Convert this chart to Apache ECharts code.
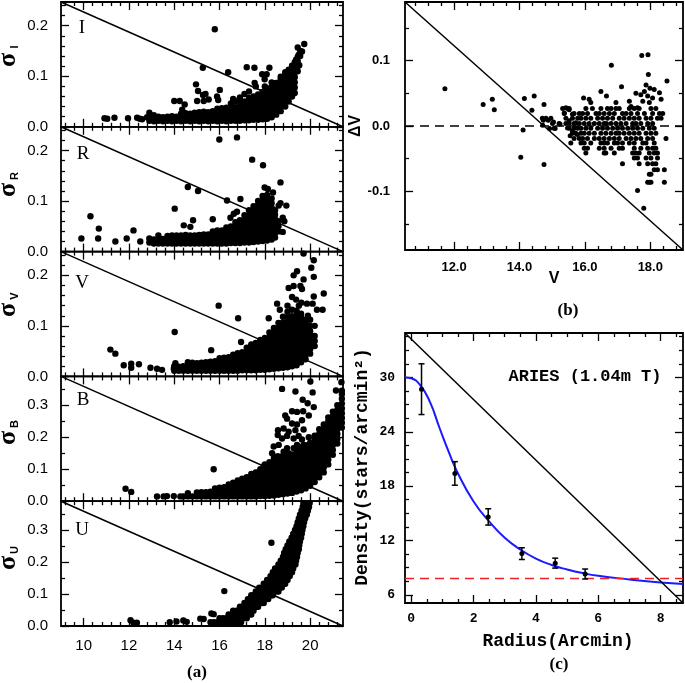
<!DOCTYPE html>
<html><head><meta charset="utf-8">
<script src="https://cdn.jsdelivr.net/npm/echarts@6/dist/echarts.min.js"></script>
<style>html,body{margin:0;padding:0;background:#fff}#c{width:685px;height:683px}</style>
</head><body><div id="c"></div>
<script>
// ---------------- DATA ----------------
// Panel (a): photometric error sigma vs magnitude, five bands
const sigIPts = [[10.92,0.017],[11.04,0.016],[11.36,0.018],[11.96,0.017],[12.36,0.018],[12.48,0.016],[12.58,0.015],[12.8,0.019],[13.1,0.023],
[15.79,0.193],[15.26,0.117],[16.38,0.108],[17.2,0.118],[17.54,0.117],[18.2,0.117],[17.88,0.104],[18.08,0.104],[17.99,0.094],
[14.96,0.084],[15.05,0.071],[15.27,0.063],[15.38,0.065],[15.01,0.051],[15.3,0.051],[15.52,0.054],[14.0,0.051],[14.24,0.051],[14.46,0.044],[14.35,0.034],
[15.89,0.06],[16.01,0.073],[15.94,0.053],[17.55,0.087],[19.32,0.067],
[19.74,0.164],[19.64,0.149],[19.49,0.142],[19.38,0.133],[19.42,0.125],[19.52,0.122],[19.45,0.157],
[16.6,0.055],[17.1,0.065],[17.3,0.07],[17.6,0.08],[18.0,0.08],[18.3,0.088],[16.9,0.058],[16.63,0.053]];
const sigICols = [[12.9,[0.012,0.02,0.028]],[13.1,[0.011,0.019]],[13.3,[0.012,0.02]],[13.5,[0.011,0.019]],[13.7,[0.012,0.02]],[13.9,[0.011,0.021]],
[14.1,[0.012,0.02]],[14.3,[0.011,0.02,0.026]],[14.5,[0.012,0.021,0.027]],[14.7,[0.011,0.02,0.026]],[14.9,[0.012,0.021,0.028]],[15.1,[0.011,0.02,0.029]],
[15.3,[0.012,0.021,0.03]],[15.5,[0.011,0.02,0.029]],[15.7,[0.012,0.021,0.031]],[15.9,[0.011,0.02,0.029,0.036]],[16.1,[0.012,0.021,0.03,0.037]],
[16.3,[0.011,0.02,0.029,0.038]],[16.5,[0.012,0.021,0.03,0.039,0.046]],[16.7,[0.012,0.021,0.03,0.039,0.05]],[16.9,[0.012,0.021,0.03,0.04,0.048]],
[17.1,[0.013,0.022,0.031,0.04,0.05]],[17.3,[0.013,0.022,0.031,0.04,0.049,0.057]],[17.5,[0.014,0.023,0.032,0.041,0.05,0.06]],
[17.7,[0.014,0.023,0.032,0.041,0.05,0.059,0.064]],[17.9,[0.015,0.024,0.033,0.042,0.051,0.06,0.069]],
[18.1,[0.016,0.025,0.034,0.043,0.052,0.061,0.07,0.076]],[18.3,[0.019,0.028,0.037,0.046,0.055,0.064,0.073,0.08]],
[18.5,[0.024,0.033,0.042,0.051,0.06,0.069,0.078,0.087]],[18.7,[0.031,0.04,0.049,0.058,0.067,0.076,0.085,0.094,0.099]],
[18.9,[0.04,0.049,0.058,0.067,0.076,0.085,0.094,0.103,0.108]],[19.05,[0.05,0.059,0.068,0.077,0.086,0.095,0.104,0.113]],
[19.2,[0.06,0.069,0.078,0.087,0.096,0.105,0.114,0.121]],[19.32,[0.078,0.088,0.098,0.108,0.118,0.128]],
[19.45,[0.11,0.12,0.13,0.138]],[19.56,[0.14,0.15]]];

const sigRPts = [[9.9,0.026],[10.3,0.07],[10.67,0.0455],[10.64,0.026],[11.4,0.02],[12.2,0.042],[11.9,0.026],[12.5,0.02],[13.1,0.017],
[15.99,0.222],[16.77,0.226],[17.44,0.182],[17.92,0.171],[14.6,0.128],[15.05,0.12],[18.69,0.137],[17.99,0.127],[18.13,0.124],[18.36,0.117],
[14.02,0.085],[16.33,0.101],[16.92,0.104],[18.95,0.091],[18.61,0.091],[18.69,0.096],[15.7,0.064],[14.83,0.062],[14.42,0.052],[14.71,0.049],
[16.48,0.067],[16.63,0.075],[16.77,0.079],[18.79,0.067],[18.86,0.06],[18.79,0.039]];
const sigRCols = [[12.9,[0.018,0.026]],[13.1,[0.016,0.024]],[13.3,[0.016,0.024,0.032]],[13.5,[0.016,0.025]],[13.7,[0.016,0.024,0.031]],
[13.9,[0.016,0.024,0.032]],[14.1,[0.016,0.025,0.032]],[14.3,[0.016,0.024,0.032]],[14.5,[0.016,0.024,0.033]],[14.7,[0.016,0.025,0.032]],
[14.9,[0.016,0.024,0.032]],[15.1,[0.016,0.024,0.033]],[15.3,[0.016,0.025,0.034]],[15.5,[0.016,0.024,0.034]],[15.7,[0.016,0.024,0.033,0.04]],
[15.9,[0.016,0.025,0.033,0.042]],[16.1,[0.016,0.024,0.032,0.042]],[16.3,[0.016,0.024,0.033,0.041,0.048]],[16.5,[0.017,0.025,0.033,0.042,0.05]],
[16.7,[0.017,0.025,0.034,0.043,0.052,0.058]],[16.9,[0.017,0.026,0.035,0.044,0.053,0.062]],[17.1,[0.018,0.027,0.036,0.045,0.054,0.063,0.072]],
[17.3,[0.018,0.027,0.036,0.045,0.054,0.063,0.072,0.082]],[17.5,[0.019,0.028,0.037,0.046,0.055,0.064,0.073,0.082,0.09]],
[17.7,[0.02,0.029,0.038,0.047,0.056,0.065,0.074,0.083,0.092,0.1]],[17.9,[0.021,0.03,0.039,0.048,0.057,0.066,0.075,0.084,0.093,0.102,0.11]],
[18.1,[0.022,0.031,0.04,0.049,0.058,0.067,0.076,0.085,0.094,0.103,0.112]],[18.3,[0.024,0.033,0.042,0.051,0.06,0.069,0.078,0.087,0.096,0.105]],
[18.45,[0.028,0.037,0.046,0.055,0.064,0.073,0.082]],[18.6,[0.04,0.05,0.06]]];

const sigVPts = [[11.18,0.053],[11.4,0.045],[11.77,0.022],[12.1,0.025],[12.1,0.017],[12.44,0.024],[12.95,0.017],[13.24,0.015],[13.46,0.013],[13.98,0.015],[14.05,0.026],
[19.71,0.243],[20.16,0.23],[20.05,0.215],[20.16,0.197],[19.42,0.208],[19.27,0.2],[19.71,0.192],[19.57,0.179],[19.64,0.173],[19.05,0.175],[19.27,0.179],
[20.6,0.164],[20.16,0.158],[19.2,0.157],[19.38,0.152],[19.61,0.146],[19.86,0.144],[20.11,0.144],[20.55,0.132],[20.3,0.132],
[18.54,0.144],[18.66,0.132],[15.96,0.14],[16.82,0.115],[18.17,0.115],[14.02,0.088],[15.63,0.052],[16.95,0.068],
[19.9,0.12],[20.0,0.112],[20.2,0.1],[19.5,0.14],[19.0,0.14]];
const sigVCols = [[14.0,[0.011,0.02]],[14.2,[0.011,0.019]],[14.4,[0.011,0.02]],[14.6,[0.011,0.02,0.028]],[14.8,[0.011,0.02,0.027]],
[15.0,[0.011,0.02,0.026]],[15.2,[0.011,0.02,0.027]],[15.4,[0.011,0.02,0.028]],[15.6,[0.011,0.02,0.029]],[15.8,[0.011,0.02,0.03]],
[16.0,[0.011,0.02,0.029,0.036]],[16.2,[0.011,0.02,0.029,0.037]],[16.4,[0.011,0.02,0.029,0.038]],[16.6,[0.011,0.02,0.029,0.038,0.043]],
[16.8,[0.011,0.02,0.029,0.038,0.046]],[17.0,[0.012,0.021,0.03,0.039,0.048]],[17.2,[0.012,0.021,0.03,0.039,0.048,0.057]],
[17.4,[0.012,0.021,0.03,0.039,0.048,0.057,0.063]],[17.6,[0.012,0.021,0.03,0.039,0.048,0.057,0.066]],
[17.8,[0.013,0.022,0.031,0.04,0.049,0.058,0.067,0.072]],[18.0,[0.013,0.022,0.031,0.04,0.049,0.058,0.067,0.076]],
[18.2,[0.014,0.023,0.032,0.041,0.05,0.059,0.068,0.077,0.087]],[18.4,[0.015,0.024,0.033,0.042,0.051,0.06,0.069,0.078,0.087,0.096]],
[18.6,[0.016,0.025,0.034,0.043,0.052,0.061,0.07,0.079,0.088,0.097,0.106]],
[18.8,[0.017,0.026,0.035,0.044,0.053,0.062,0.071,0.08,0.089,0.098,0.107,0.118]],
[19.0,[0.018,0.027,0.036,0.045,0.054,0.063,0.072,0.081,0.09,0.099,0.108,0.117,0.128]],
[19.2,[0.02,0.029,0.038,0.047,0.056,0.065,0.074,0.083,0.092,0.101,0.11,0.119,0.132]],
[19.4,[0.022,0.031,0.04,0.049,0.058,0.067,0.076,0.085,0.094,0.103,0.112,0.121,0.13]],
[19.6,[0.028,0.037,0.046,0.055,0.064,0.073,0.082,0.091,0.1,0.109,0.118,0.124]],
[19.8,[0.034,0.043,0.052,0.061,0.07,0.079,0.088,0.097,0.106,0.112]],
[20.0,[0.045,0.054,0.063,0.072,0.081,0.09,0.1]],[20.2,[0.06,0.07,0.08]]];

const sigBPts = [[11.85,0.039],[12.1,0.029],[13.24,0.015],[13.53,0.015],[13.68,0.016],[13.98,0.016],[14.27,0.015],
[20.01,0.374],[21.14,0.346],[18.76,0.351],[19.35,0.343],[20.11,0.34],[19.67,0.317],[19.89,0.306],[20.16,0.294],
[18.9,0.268],[19.2,0.281],[19.42,0.279],[19.69,0.281],[18.98,0.258],[19.2,0.243],[19.42,0.24],[19.64,0.253],[19.94,0.268],
[18.58,0.222],[18.83,0.227],[19.05,0.217],[19.35,0.222],[19.71,0.224],[18.57,0.207],[18.76,0.196],[18.98,0.204],[19.27,0.196],[19.49,0.204],[19.64,0.193],[19.94,0.2],
[18.39,0.171],[18.61,0.176],[18.98,0.166],[18.32,0.15],[18.54,0.14],[18.83,0.155],[19.05,0.15],[19.27,0.166],[19.42,0.176],[19.71,0.176],
[15.74,0.1],[17.66,0.088],[17.8,0.088],[17.95,0.109],[21.38,0.372],[21.4,0.345]];
const sigBCols = [[14.4,[0.015]],[14.6,[0.015,0.025]],[14.8,[0.015]],[15.0,[0.015,0.027]],[15.2,[0.015,0.028]],[15.4,[0.015,0.028]],
[15.6,[0.015,0.03]],[15.8,[0.015,0.03,0.04]],[16.0,[0.015,0.03,0.042]],[16.2,[0.015,0.03,0.044]],[16.4,[0.015,0.03,0.045,0.052]],
[16.6,[0.015,0.03,0.045,0.058]],[16.8,[0.015,0.03,0.045,0.06,0.065]],[17.0,[0.015,0.03,0.045,0.06,0.07]],[17.2,[0.015,0.03,0.045,0.06,0.075]],
[17.4,[0.015,0.03,0.045,0.06,0.075,0.085]],[17.6,[0.015,0.03,0.045,0.06,0.075,0.09]],[17.8,[0.016,0.031,0.046,0.061,0.076,0.091,0.1]],
[18.0,[0.016,0.031,0.046,0.061,0.076,0.091,0.106,0.115]],[18.2,[0.017,0.032,0.047,0.062,0.077,0.092,0.107,0.122]],
[18.4,[0.018,0.033,0.048,0.063,0.078,0.093,0.108,0.123,0.135]],[18.6,[0.02,0.035,0.05,0.065,0.08,0.095,0.11,0.125,0.14]],
[18.8,[0.022,0.037,0.052,0.067,0.082,0.097,0.112,0.127,0.142]],[19.0,[0.024,0.039,0.054,0.069,0.084,0.099,0.114,0.129,0.144]],
[19.2,[0.026,0.041,0.056,0.071,0.086,0.101,0.116,0.131,0.146]],[19.4,[0.03,0.045,0.06,0.075,0.09,0.105,0.12,0.135,0.15,0.16]],
[19.6,[0.034,0.049,0.064,0.079,0.094,0.109,0.124,0.139,0.154,0.168]],[19.8,[0.04,0.055,0.07,0.085,0.1,0.115,0.13,0.145,0.16,0.175]],
[20.0,[0.048,0.063,0.078,0.093,0.108,0.123,0.138,0.153,0.168,0.183]],[20.2,[0.06,0.075,0.09,0.105,0.12,0.135,0.15,0.165,0.18,0.195,0.205]],
[20.4,[0.075,0.09,0.105,0.12,0.135,0.15,0.165,0.18,0.195,0.21,0.225]],[20.6,[0.09,0.105,0.12,0.135,0.15,0.165,0.18,0.195,0.21,0.225,0.24]],
[20.8,[0.115,0.13,0.145,0.16,0.175,0.19,0.205,0.22,0.235,0.25,0.262]],[21.0,[0.145,0.16,0.175,0.19,0.205,0.22,0.235,0.25,0.265,0.28]],
[21.2,[0.18,0.195,0.21,0.225,0.24,0.255,0.27,0.285,0.3]],[21.4,[0.23,0.245,0.26,0.275,0.29,0.305,0.32,0.335]]];

const sigUPts = [[12.07,0.018],[12.2,0.01],[12.35,0.01],[13.8,0.012],[14.1,0.014],[14.4,0.017],[14.55,0.013],[15.15,0.023],[15.3,0.022],[15.74,0.037],
[18.29,0.26],[16.21,0.109],[15.64,0.039],[19.79,0.383]];
const sigURows = [[0.012,[15.6,15.75,15.9,16.05,16.2,16.35,16.5,16.65,16.8,16.95]],[0.024,[16.0,16.15,16.3,16.45,16.6,16.75,16.9,17.05,17.2]],
[0.036,[16.4,16.55,16.7,16.85,17.0,17.15,17.3,17.4]],[0.048,[16.6,16.75,16.9,17.05,17.2,17.35,17.5]],
[0.06,[16.9,17.05,17.2,17.35,17.5,17.65,17.7]],[0.072,[17.1,17.25,17.4,17.55,17.7,17.85,17.95]],
[0.084,[17.25,17.4,17.55,17.7,17.85,18.0,18.15]],[0.096,[17.4,17.55,17.7,17.85,18.0,18.15,18.3,18.35]],
[0.108,[17.6,17.75,17.9,18.05,18.2,18.35,18.5,18.6]],[0.12,[17.75,17.9,18.05,18.2,18.35,18.5,18.65,18.75]],
[0.132,[17.95,18.1,18.25,18.4,18.55,18.7,18.85,18.9]],[0.144,[18.1,18.25,18.4,18.55,18.7,18.85,19.0]],
[0.156,[18.25,18.4,18.55,18.7,18.85,19.0,19.1]],[0.168,[18.35,18.5,18.65,18.8,18.95,19.1,19.2]],
[0.18,[18.45,18.6,18.75,18.9,19.05,19.2,19.25]],[0.192,[18.6,18.75,18.9,19.05,19.2,19.35]],
[0.204,[18.7,18.85,19.0,19.15,19.3,19.38]],[0.216,[18.8,18.95,19.1,19.25,19.42]],[0.228,[18.85,19.0,19.15,19.3,19.45]],
[0.24,[18.92,19.07,19.22,19.37,19.5]],[0.252,[19.0,19.15,19.3,19.45,19.52]],[0.264,[19.08,19.22,19.37,19.55]],
[0.276,[19.18,19.32,19.46,19.6]],[0.288,[19.25,19.4,19.55,19.63]],[0.3,[19.33,19.48,19.62,19.66]],[0.312,[19.4,19.55,19.7]],
[0.324,[19.45,19.6,19.73]],[0.336,[19.5,19.65,19.78]],[0.348,[19.55,19.7,19.85]],[0.36,[19.62,19.76,19.9]],
[0.372,[19.67,19.82,19.95]],[0.384,[19.7,19.85,19.98]]];

// Panel (b): Delta V vs V
const dVPts = [[11.72,0.057],[12.89,0.033],[13.17,0.041],[13.23,0.025],[14.15,0.042],[14.45,0.046],[14.38,0.024],[14.11,-0.006],[14.04,-0.048],[14.75,0.033],[14.75,-0.059],
[14.73,0.009],[14.88,0.009],[15.04,0.006],[15.24,0.003],[14.71,0.001],[14.92,-0.004],[15.09,-0.004],
[15.52,0.025],[15.37,0.02],[15.42,0.028],[15.62,0.018],[15.52,0.008],[15.72,0.005],[15.47,-0.003],[15.62,-0.008],[15.55,-0.015],[15.77,-0.013],
[17.74,0.108],[17.93,0.109],[16.81,0.093],[17.94,0.079],[18.51,0.069],[17.12,0.06],[17.87,0.063],[17.99,0.058],[18.12,0.056],[18.28,0.051],
[17.82,0.053],[17.71,0.048],[17.92,0.046],[18.07,0.043],[18.33,0.041],[17.77,0.038],[17.97,0.036],
[16.49,0.053],[16.66,0.046],[16.95,0.036],[17.36,0.038],[17.56,0.05],[17.41,0.03],[17.61,0.028],[15.96,0.043],[16.18,0.036],[16.13,0.041],
[17.61,-0.099],[17.8,-0.126]];
const dVRows = [
[0.027,[15.32,15.47,15.52,16.03,16.23,16.49,16.69,16.8,16.95,17.05,17.36,17.51,17.66,18.02,18.17]],
[0.019,[15.37,15.67,15.83,15.93,16.08,16.34,16.44,16.59,16.75,16.9,17.15,17.26,17.41,17.61,17.82,18.07,18.28,18.38]],
[0.012,[14.7,14.81,14.96,15.42,15.62,15.78,15.88,16.03,16.18,16.39,16.54,16.69,16.85,17.05,17.2,17.36,17.51,17.66,17.87,18.02,18.22,18.33]],
[0.004,[15.01,15.21,15.42,15.52,15.67,15.83,15.98,16.13,16.29,16.44,16.59,16.66,16.8,16.95,17.1,17.26,17.46,17.56,17.71,17.92,18.07]],
[-0.0035,[15.06,15.52,15.67,15.78,15.88,16.03,16.18,16.39,16.54,16.69,16.85,17.0,17.15,17.31,17.46,17.61,17.77,17.97,18.12]],
[-0.011,[15.62,15.72,15.88,15.98,16.13,16.29,16.49,16.64,16.8,16.95,17.05,17.2,17.36,17.51,17.66,17.87,18.02,18.17]],
[-0.019,[15.67,15.83,15.93,16.08,16.29,16.44,16.59,16.75,16.9,17.05,17.26,17.41,17.56,17.71,17.92,18.07,18.48]],
[-0.026,[15.57,15.88,15.98,16.18,16.49,16.59,16.69,16.9,17.0,17.15,17.36,17.51,17.77,17.87,18.12]],
[-0.034,[15.98,16.08,16.44,16.59,16.8,17.05,17.15,17.51,17.71,17.92,18.07,18.17]],
[-0.0415,[16.03,16.59,16.64,16.9,17.46,17.56,17.66,17.97,18.12,18.22]],
[-0.049,[17.51,17.61,17.87,18.02,18.22]],[-0.058,[17.15,17.66,17.92,18.07,18.17]],
[-0.067,[18.12,18.22,18.43]],[-0.074,[17.97,18.02]],[-0.086,[17.92,17.97,18.02,18.43]]];

// Panel (c): radial density profile
const radius = [0.33, 1.4, 2.47, 3.55, 4.62, 5.58];
const density = [28.7, 19.4, 14.6, 10.55, 9.5, 8.3];
const densErr = [2.8, 1.3, 0.9, 0.65, 0.55, 0.55];
const kingR = [-0.2, 0, 0.3, 0.6, 0.9, 1.2, 1.5, 2.0, 2.5, 3.0, 3.5, 4.0, 4.5, 5.0, 5.5, 6.0, 7.0, 8.0, 8.72];
const kingD = [30, 29.9, 29.1, 27.3, 24.5, 21.8, 19.4, 16.3, 14.1, 12.3, 11.0, 10.0, 9.3, 8.8, 8.4, 8.1, 7.7, 7.35, 7.2];
const bgDensity = 7.8;
const panelNames = ['I', 'R', 'V', 'B', 'U'];

// ---------------- build ----------------
const fromCols = c => c.flatMap(([x, ys]) => ys.map(y => [x, y]));
const fromRows = r => r.flatMap(([y, xs]) => xs.map(x => [x, y]));
const seq = (a, b, s) => { const o = []; for (let v = a; v <= b + 1e-9; v += s) o.push(Math.round(v * 1000) / 1000); return o; };
const notIn = (arr, maj) => arr.filter(v => !maj.some(m => Math.abs(m - v) < 1e-6));

const grids = [], xAxes = [], yAxes = [], series = [], graphic = [];

function addPanel(p) {
  const gi = grids.length;
  grids.push({ left: p.left, top: p.top, width: p.width, height: p.height, show: true, borderColor: '#000', borderWidth: 1.8, backgroundColor: 'rgba(0,0,0,0)' });
  const mk = (dim, pos, ticks, len, labels, fmt, style, margin) => ({
    type: 'value', gridIndex: gi, position: pos,
    min: dim === 'x' ? p.xMin : p.yMin, max: dim === 'x' ? p.xMax : p.yMax,
    axisLine: { show: false, onZero: false }, splitLine: { show: false },
    axisTick: { show: true, inside: true, length: len, customValues: ticks, lineStyle: { color: '#000', width: 1.3 } },
    axisLabel: Object.assign({ show: !!labels, customValues: labels || [], formatter: fmt, color: '#000', margin: margin || 8 }, style || {})
  });
  const xi = xAxes.length, yi = yAxes.length;
  xAxes.push(mk('x', 'bottom', p.xMajor, p.majLen, p.xLabels, p.xFmt, p.xStyle, p.xMargin));
  xAxes.push(mk('x', 'bottom', p.xMinor, p.minLen));
  xAxes.push(mk('x', 'top', p.xMajor, p.majLen));
  xAxes.push(mk('x', 'top', p.xMinor, p.minLen));
  yAxes.push(mk('y', 'left', p.yMajor, p.majLen, p.yLabels, p.yFmt, p.yStyle, p.yMargin));
  yAxes.push(mk('y', 'left', p.yMinor, p.minLen));
  yAxes.push(mk('y', 'right', p.yMajor, p.majLen));
  yAxes.push(mk('y', 'right', p.yMinor, p.minLen));
  // diagonal line corner to corner
  series.push({ type: 'line', xAxisIndex: xi, yAxisIndex: yi, data: [[p.xMin, p.yMax], [p.xMax, p.yMin]], symbol: 'none', silent: true,
    lineStyle: { color: '#000', width: 1.5 }, z: 3 });
  return { xi, yi };
}

const dot = { color: '#000', opacity: 1 };

// left column
const leftX = { min: 9, max: 21.45 };
const lxMajor = [10, 12, 14, 16, 18, 20];
const lxMinor = notIn(seq(9.2, 21.2, 0.4), lxMajor);
const leftData = [
  fromCols(sigICols).concat(sigIPts), fromCols(sigRCols).concat(sigRPts), fromCols(sigVCols).concat(sigVPts),
  fromCols(sigBCols).concat(sigBPts), fromRows(sigURows).concat(sigUPts)];
const tops = [2, 126.8, 251.6, 376.4, 501.2];
const lblStyle = { fontFamily: 'Liberation Sans', fontSize: 15 };
for (let k = 0; k < 5; k++) {
  const big = k >= 3;
  const yMax = big ? 0.39 : 0.247;
  const yMajor = big ? [0, 0.1, 0.2, 0.3] : [0, 0.1, 0.2];
  const yMinor = big ? [0.05, 0.15, 0.25, 0.35] : notIn(seq(0.02, 0.24, 0.02), yMajor);
  const ax = addPanel({ left: 61, top: tops[k], width: 282, height: 124.8, xMin: leftX.min, xMax: leftX.max, yMin: 0, yMax,
    xMajor: lxMajor, xMinor: lxMinor, yMajor, yMinor, majLen: 8, minLen: 4,
    xLabels: k === 4 ? lxMajor : null, xFmt: v => String(v), xStyle: lblStyle, xMargin: 12,
    yLabels: yMajor, yFmt: v => v.toFixed(1), yStyle: lblStyle, yMargin: 13 });
  series.push({ type: 'scatter', xAxisIndex: ax.xi, yAxisIndex: ax.yi, data: leftData[k], symbolSize: 6.4,
    itemStyle: dot, silent: true, z: 2 });
}

// panel (b)
const bxMajor = [12, 14, 16, 18];
const bStyle = { fontFamily: 'Liberation Sans', fontWeight: 'bold', fontSize: 13 };
const axB = addPanel({ left: 405, top: 2, width: 278, height: 248, xMin: 10.5, xMax: 19, yMin: -0.19, yMax: 0.19,
  xMajor: bxMajor, xMinor: notIn(seq(10.8, 18.8, 0.4), bxMajor), yMajor: [-0.1, 0, 0.1], yMinor: [-0.15, -0.05, 0.05, 0.15],
  majLen: 8, minLen: 4, xLabels: bxMajor, xFmt: v => v.toFixed(1), xStyle: bStyle, xMargin: 11,
  yLabels: [-0.1, 0, 0.1], yFmt: v => v.toFixed(1), yStyle: bStyle, yMargin: 15 });
series.push({ type: 'scatter', xAxisIndex: axB.xi, yAxisIndex: axB.yi, data: fromRows(dVRows).concat(dVPts), symbolSize: 5,
  itemStyle: dot, silent: true, z: 2 });
series.push({ type: 'line', xAxisIndex: axB.xi, yAxisIndex: axB.yi, data: [[10.5, 0], [19, 0]], symbol: 'none', silent: true,
  lineStyle: { color: '#000', width: 1.5, type: [9, 6] }, z: 1 });

// panel (c)
const cxMajor = [0, 2, 4, 6, 8], cyMajor = [6, 12, 18, 24, 30];
const monoB = { fontFamily: 'Liberation Mono', fontWeight: 'bold', fontSize: 13 };
const axC = addPanel({ left: 405, top: 333, width: 278, height: 270, xMin: -0.2, xMax: 8.72, yMin: 5.1, yMax: 34.9,
  xMajor: cxMajor, xMinor: notIn(seq(0.5, 8.5, 0.5), cxMajor), yMajor: cyMajor, yMinor: notIn(seq(7.5, 34.5, 1.5), cyMajor),
  majLen: 8, minLen: 4, xLabels: cxMajor, xFmt: v => String(v), xStyle: monoB, xMargin: 9,
  yLabels: cyMajor, yFmt: v => String(v), yStyle: monoB, yMargin: 10 });
series.push({ type: 'line', xAxisIndex: axC.xi, yAxisIndex: axC.yi, data: kingR.map((r, i) => [r, kingD[i]]), symbol: 'none', smooth: true,
  silent: true, lineStyle: { color: '#1a1aff', width: 2 }, z: 2 });
series.push({ type: 'line', xAxisIndex: axC.xi, yAxisIndex: axC.yi, data: [[-0.2, bgDensity], [8.72, bgDensity]], symbol: 'none', silent: true,
  lineStyle: { color: '#ee2222', width: 1.6, type: [9, 6] }, z: 2 });
series.push({ type: 'custom', xAxisIndex: axC.xi, yAxisIndex: axC.yi, silent: true, z: 4,
  data: radius.map((r, i) => [r, density[i] - densErr[i], density[i] + densErr[i]]),
  encode: { x: 0, y: [1, 2] },
  renderItem(params, api) {
    const lo = api.coord([api.value(0), api.value(1)]), hi = api.coord([api.value(0), api.value(2)]), w = 3;
    const st = { stroke: '#000', lineWidth: 1.5 };
    return { type: 'group', children: [
      { type: 'line', shape: { x1: lo[0], y1: lo[1], x2: hi[0], y2: hi[1] }, style: st },
      { type: 'line', shape: { x1: lo[0] - w, y1: lo[1], x2: lo[0] + w, y2: lo[1] }, style: st },
      { type: 'line', shape: { x1: hi[0] - w, y1: hi[1], x2: hi[0] + w, y2: hi[1] }, style: st }] };
  } });
series.push({ type: 'scatter', xAxisIndex: axC.xi, yAxisIndex: axC.yi, data: radius.map((r, i) => [r, density[i]]), symbolSize: 5,
  itemStyle: dot, silent: true, z: 5 });

// texts
const T = (x, y, text, font, extra) => Object.assign({ type: 'text', x, y, silent: true, z: 100,
  style: Object.assign({ text, fill: '#000', align: 'center', verticalAlign: 'middle' }, font) }, extra || {});
const rot = { rotation: Math.PI / 2 };
const letterPos = [[82, 28], [83, 154], [82, 283], [83, 400], [82, 530]];
const sigPos = [[8, 60, 15, 47], [8, 190, 15, 176], [8, 310, 15, 296], [8, 438, 15, 424], [8, 563, 15, 550]];
for (let k = 0; k < 5; k++) {
  graphic.push(T(letterPos[k][0], letterPos[k][1], panelNames[k], { font: '19px "Liberation Serif"' }));
  graphic.push(T(sigPos[k][0], sigPos[k][1], 'σ', { font: 'bold 26px "Liberation Serif"' }, rot));
  graphic.push(T(sigPos[k][2], sigPos[k][3], panelNames[k], { font: 'bold 11px "Liberation Sans"' }, rot));
}
graphic.push(T(197, 673, '(a)', { font: 'bold 17px "Liberation Serif"' }));
graphic.push(T(568, 311, '(b)', { font: 'bold 17px "Liberation Serif"' }));
graphic.push(T(559, 665, '(c)', { font: 'bold 17px "Liberation Serif"' }));
graphic.push(T(356, 126, 'ΔV', { font: 'bold 16px "Liberation Sans"' }, rot));
graphic.push(T(554, 279, 'V', { font: 'bold 16px "Liberation Sans"' }));
graphic.push(T(558, 641, 'Radius(Arcmin)', { font: 'bold 18px "Liberation Mono"' }));
graphic.push(T(362, 467, 'Density(stars/arcmin²)', { font: 'bold 18px "Liberation Mono"' }, rot));
graphic.push(T(585, 377, 'ARIES (1.04m T)', { font: 'bold 17px "Liberation Mono"' }));

const chart = echarts.init(document.getElementById('c'), null, { renderer: 'canvas' });
chart.setOption({ animation: false, backgroundColor: '#fff', grid: grids, xAxis: xAxes, yAxis: yAxes, series, graphic });
</script></body></html>
